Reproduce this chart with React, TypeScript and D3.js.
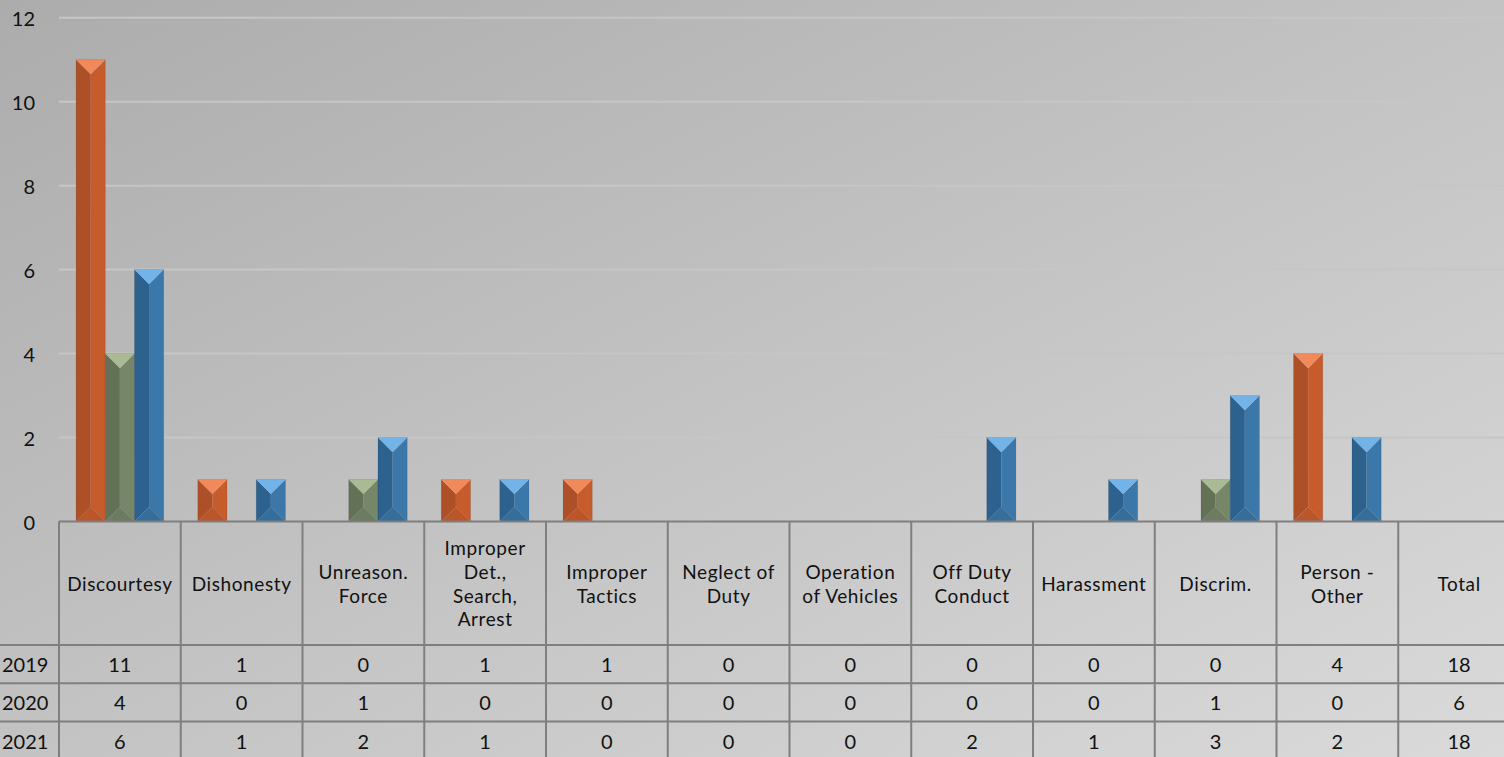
import React from "react";
import * as d3 from "d3";

const categories = [
  "Discourtesy",
  "Dishonesty",
  "Unreason.\nForce",
  "Improper\nDet.,\nSearch,\nArrest",
  "Improper\nTactics",
  "Neglect of\nDuty",
  "Operation\nof Vehicles",
  "Off Duty\nConduct",
  "Harassment",
  "Discrim.",
  "Person -\nOther",
  "Total",
];
const seriesNames = ["2019", "2020", "2021"];
const values2019 = [11, 1, 0, 1, 1, 0, 0, 0, 0, 0, 4];
const values2020 = [4, 0, 1, 0, 0, 0, 0, 0, 0, 1, 0];
const values2021 = [6, 1, 2, 1, 0, 0, 0, 2, 1, 3, 2];
const totals = [18, 6, 18];
const yTicks = [0, 2, 4, 6, 8, 10, 12];

const seriesValues = [values2019, values2020, values2021];
const palettes = [
  { top: "#f2895b", left: "#ad4f27", right: "#c65b2c", bottom: "#bb562a" },
  { top: "#a9ba94", left: "#637157", right: "#768669", bottom: "#6d7b61" },
  { top: "#72b3ea", left: "#2d618e", right: "#3b77a9", bottom: "#356d9b" },
];

const W = 1504;
const H = 757;
const x0 = 59;
const colW = 121.75;
const axisY = 521.5;
const headerBottom = 645;
const rowH = 38.3;
const FONT = "Lato, 'Open Sans', sans-serif";

export default function App() {
  const x = d3
    .scaleBand<string>()
    .domain(categories)
    .range([x0, x0 + colW * categories.length])
    .paddingInner(0)
    .paddingOuter(0);
  const inner = d3
    .scaleBand<string>()
    .domain(seriesNames)
    .range([0, x.bandwidth()])
    .paddingInner(0)
    .paddingOuter(0.584);
  const y = d3.scaleLinear().domain([0, 12]).range([axisY, 17.7]);

  const bars: React.ReactNode[] = [];
  seriesValues.forEach((vals, si) => {
    const pal = palettes[si];
    vals.forEach((v, ci) => {
      if (!v) return;
      const bx0 = (x(categories[ci]) as number) + (inner(seriesNames[si]) as number);
      const bx1 = bx0 + inner.bandwidth();
      const by0 = y(v);
      const by1 = y(0);
      const w = bx1 - bx0;
      const h = by1 - by0;
      const d = Math.min(w / 2, h / 2);
      const cx = bx0 + d;
      const cx2 = bx1 - d;
      const pts = (a: number[][]) => a.map((p) => p.join(",")).join(" ");
      bars.push(
        <g key={`${si}-${ci}`}>
          <polygon points={pts([[bx0, by0], [cx, by0 + d], [cx, by1 - d], [bx0, by1]])} fill={pal.left} />
          <polygon points={pts([[bx1, by0], [cx2, by0 + d], [cx2, by1 - d], [bx1, by1]])} fill={pal.right} />
          <polygon points={pts([[bx0, by1], [bx1, by1], [cx2, by1 - d], [cx, by1 - d]])} fill={pal.bottom} />
          <polygon points={pts([[bx0, by0], [bx1, by0], [cx2, by0 + d], [cx, by0 + d]])} fill={pal.top} />
          <rect x={bx0} y={by0} width={w} height={h} fill="none" stroke="rgba(0,0,0,0.12)" strokeWidth={0.8} />
        </g>
      );
    });
  });

  const tableRight = x0 + colW * categories.length;
  const rowsTop = [headerBottom, headerBottom + rowH, headerBottom + 2 * rowH];

  return (
    <svg
      width={W}
      height={H}
      style={{ position: "absolute", left: 0, top: 0, display: "block" }}
      fontFamily={FONT}
    >
      <defs>
        <linearGradient id="bg" x1="0" y1="0" x2="1" y2="1">
          <stop offset="0" stopColor="#acacac" />
          <stop offset="1" stopColor="#dadada" />
        </linearGradient>
      </defs>
      <rect x={0} y={0} width={W} height={H} fill="url(#bg)" />

      {yTicks.filter((t) => t > 0).map((t) => (
        <line key={t} x1={x0} x2={W} y1={y(t)} y2={y(t)} stroke="#c6c6c6" strokeWidth={2} />
      ))}
      {yTicks.map((t) => (
        <text key={t} x={35} y={y(t)} textAnchor="end" dominantBaseline="central" fontSize={20} fill="#111">
          {t}
        </text>
      ))}

      {bars}

      {/* table lines */}
      <line x1={x0} x2={tableRight} y1={axisY} y2={axisY} stroke="#7f7f7f" strokeWidth={2} />
      {rowsTop.map((ry, i) => (
        <line key={i} x1={0} x2={tableRight} y1={ry} y2={ry} stroke="#7f7f7f" strokeWidth={2} />
      ))}
      {d3.range(categories.length + 1).map((i) => (
        <line
          key={i}
          x1={x0 + i * colW}
          x2={x0 + i * colW}
          y1={axisY}
          y2={H + 5}
          stroke="#7f7f7f"
          strokeWidth={2}
        />
      ))}

      {/* header labels */}
      {categories.map((c) => {
        const lines = c.split("\n");
        const cx = (x(c) as number) + x.bandwidth() / 2;
        const cy = (axisY + headerBottom) / 2;
        const lh = 23.8;
        return (
          <g key={c}>
            {lines.map((l, i) => (
              <text
                key={i}
                x={cx}
                y={cy + (i - (lines.length - 1) / 2) * lh}
                textAnchor="middle"
                dominantBaseline="central"
                fontSize={19}
                letterSpacing={0.6}
                fill="#111"
              >
                {l}
              </text>
            ))}
          </g>
        );
      })}

      {/* data rows */}
      {seriesNames.map((s, si) => {
        const cy = rowsTop[si] + rowH / 2;
        const rowVals = [...seriesValues[si], totals[si]];
        return (
          <g key={s}>
            <text x={2} y={cy} dominantBaseline="central" fontSize={20} fill="#111">
              {s}
            </text>
            {rowVals.map((v, ci) => (
              <text
                key={ci}
                x={(x(categories[ci]) as number) + x.bandwidth() / 2}
                y={cy}
                textAnchor="middle"
                dominantBaseline="central"
                fontSize={20}
                fill="#111"
              >
                {v}
              </text>
            ))}
          </g>
        );
      })}
    </svg>
  );
}
